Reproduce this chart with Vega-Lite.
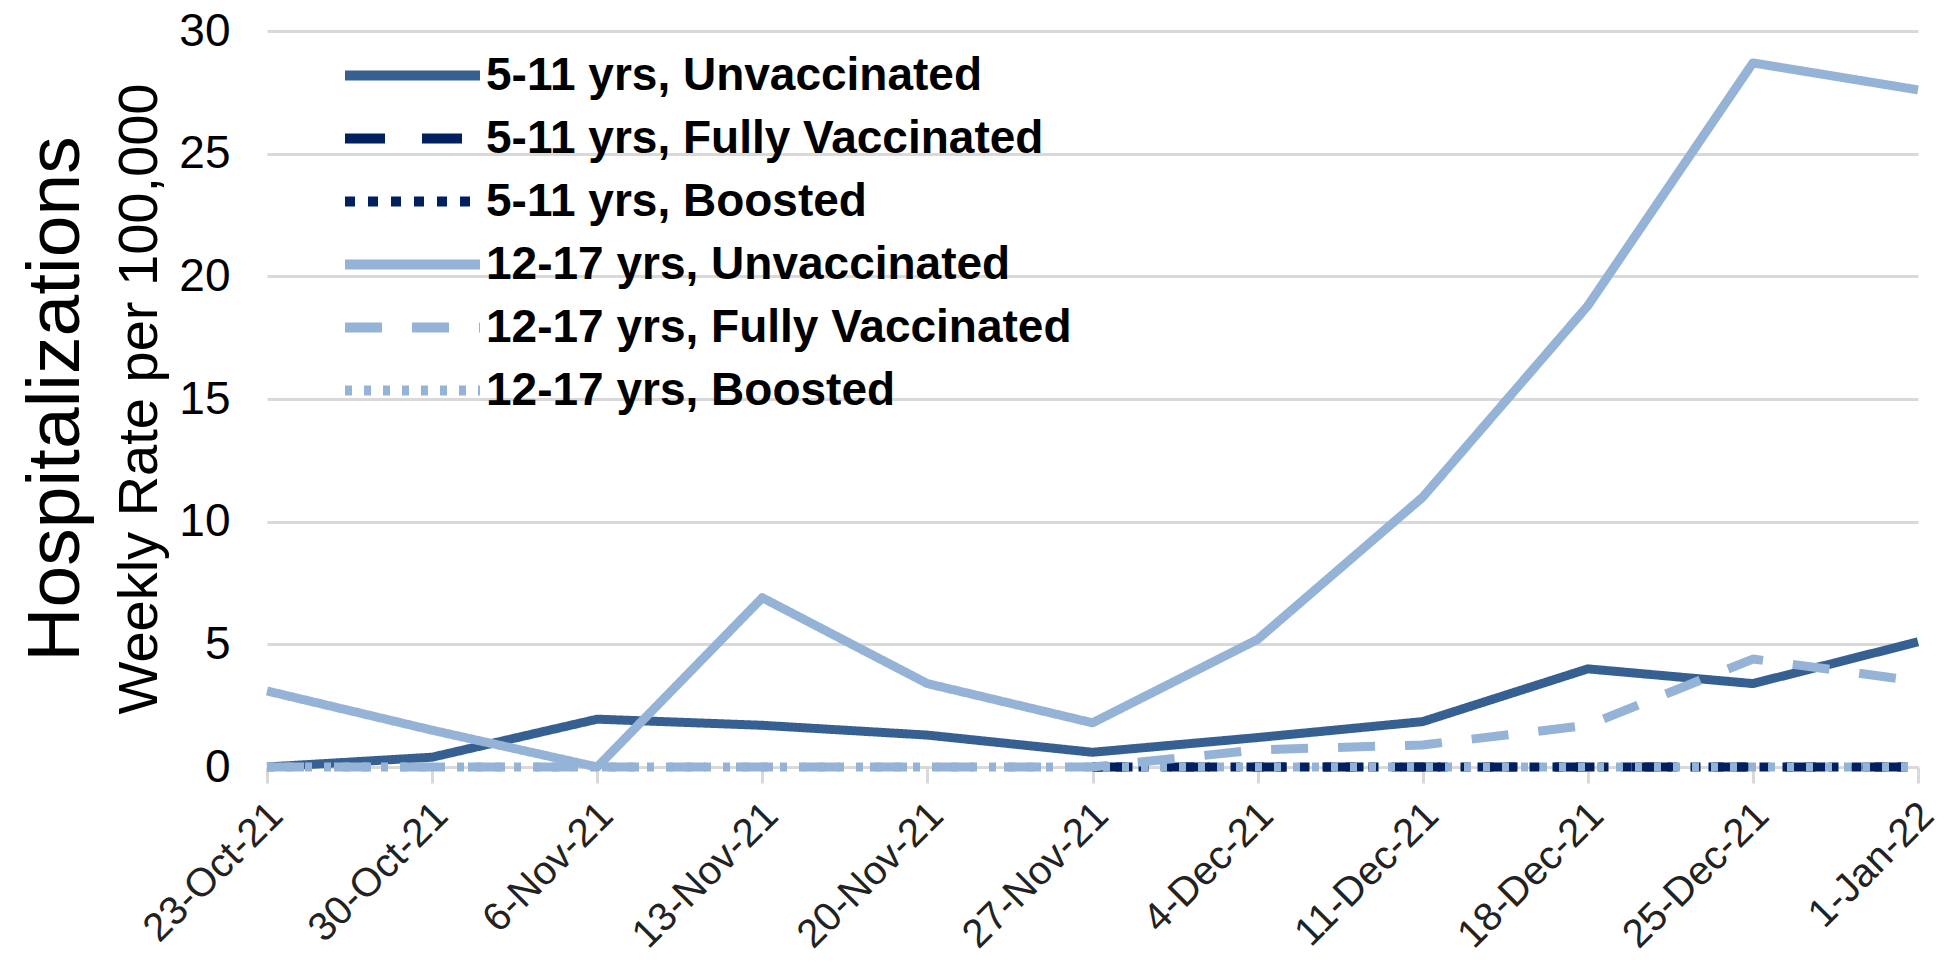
{
  "$schema": "https://vega.github.io/schema/vega-lite/v6.json",
  "width": 1651,
  "height": 736,
  "autosize": {"type": "none"},
  "padding": {"left": 267, "top": 31, "right": 39, "bottom": 199},
  "background": "white",
  "config": {"view": {"stroke": null}, "font": "Liberation Sans"},
  "title": {
    "text": "Hospitalizations",
    "subtitle": "Weekly Rate per 100,000",
    "orient": "left",
    "anchor": "middle",
    "fontSize": 75,
    "font": "Liberation Sans",
    "fontWeight": "normal",
    "color": "#000000",
    "subtitleFontSize": 56,
    "subtitleFont": "Liberation Sans",
    "subtitleColor": "#000000",
    "subtitlePadding": 18,
    "offset": -33
  },
  "data": {
    "values": [
      {"week": "23-Oct-21", "series": "5-11 yrs, Unvaccinated", "rate": 0},
      {"week": "30-Oct-21", "series": "5-11 yrs, Unvaccinated", "rate": 0.4},
      {"week": "6-Nov-21", "series": "5-11 yrs, Unvaccinated", "rate": 1.95},
      {"week": "13-Nov-21", "series": "5-11 yrs, Unvaccinated", "rate": 1.7},
      {"week": "20-Nov-21", "series": "5-11 yrs, Unvaccinated", "rate": 1.3},
      {"week": "27-Nov-21", "series": "5-11 yrs, Unvaccinated", "rate": 0.6},
      {"week": "4-Dec-21", "series": "5-11 yrs, Unvaccinated", "rate": 1.2},
      {"week": "11-Dec-21", "series": "5-11 yrs, Unvaccinated", "rate": 1.85},
      {"week": "18-Dec-21", "series": "5-11 yrs, Unvaccinated", "rate": 4.0},
      {"week": "25-Dec-21", "series": "5-11 yrs, Unvaccinated", "rate": 3.4},
      {"week": "1-Jan-22", "series": "5-11 yrs, Unvaccinated", "rate": 5.1},
      {"week": "27-Nov-21", "series": "5-11 yrs, Fully Vaccinated", "rate": 0},
      {"week": "4-Dec-21", "series": "5-11 yrs, Fully Vaccinated", "rate": 0},
      {"week": "11-Dec-21", "series": "5-11 yrs, Fully Vaccinated", "rate": 0},
      {"week": "18-Dec-21", "series": "5-11 yrs, Fully Vaccinated", "rate": 0},
      {"week": "25-Dec-21", "series": "5-11 yrs, Fully Vaccinated", "rate": 0},
      {"week": "1-Jan-22", "series": "5-11 yrs, Fully Vaccinated", "rate": 0},
      {"week": "27-Nov-21", "series": "5-11 yrs, Boosted", "rate": 0},
      {"week": "4-Dec-21", "series": "5-11 yrs, Boosted", "rate": 0},
      {"week": "11-Dec-21", "series": "5-11 yrs, Boosted", "rate": 0},
      {"week": "18-Dec-21", "series": "5-11 yrs, Boosted", "rate": 0},
      {"week": "25-Dec-21", "series": "5-11 yrs, Boosted", "rate": 0},
      {"week": "1-Jan-22", "series": "5-11 yrs, Boosted", "rate": 0},
      {"week": "23-Oct-21", "series": "12-17 yrs, Unvaccinated", "rate": 3.1},
      {"week": "30-Oct-21", "series": "12-17 yrs, Unvaccinated", "rate": 1.5},
      {"week": "6-Nov-21", "series": "12-17 yrs, Unvaccinated", "rate": 0},
      {"week": "13-Nov-21", "series": "12-17 yrs, Unvaccinated", "rate": 6.9},
      {"week": "20-Nov-21", "series": "12-17 yrs, Unvaccinated", "rate": 3.4},
      {"week": "27-Nov-21", "series": "12-17 yrs, Unvaccinated", "rate": 1.8},
      {"week": "4-Dec-21", "series": "12-17 yrs, Unvaccinated", "rate": 5.2},
      {"week": "11-Dec-21", "series": "12-17 yrs, Unvaccinated", "rate": 11.0},
      {"week": "18-Dec-21", "series": "12-17 yrs, Unvaccinated", "rate": 18.8},
      {"week": "25-Dec-21", "series": "12-17 yrs, Unvaccinated", "rate": 28.7},
      {"week": "1-Jan-22", "series": "12-17 yrs, Unvaccinated", "rate": 27.6},
      {"week": "23-Oct-21", "series": "12-17 yrs, Fully Vaccinated", "rate": 0},
      {"week": "30-Oct-21", "series": "12-17 yrs, Fully Vaccinated", "rate": 0},
      {"week": "6-Nov-21", "series": "12-17 yrs, Fully Vaccinated", "rate": 0},
      {"week": "13-Nov-21", "series": "12-17 yrs, Fully Vaccinated", "rate": 0},
      {"week": "20-Nov-21", "series": "12-17 yrs, Fully Vaccinated", "rate": 0},
      {"week": "27-Nov-21", "series": "12-17 yrs, Fully Vaccinated", "rate": 0},
      {"week": "4-Dec-21", "series": "12-17 yrs, Fully Vaccinated", "rate": 0.7},
      {"week": "11-Dec-21", "series": "12-17 yrs, Fully Vaccinated", "rate": 0.9},
      {"week": "18-Dec-21", "series": "12-17 yrs, Fully Vaccinated", "rate": 1.7},
      {"week": "25-Dec-21", "series": "12-17 yrs, Fully Vaccinated", "rate": 4.4},
      {"week": "1-Jan-22", "series": "12-17 yrs, Fully Vaccinated", "rate": 3.5},
      {"week": "23-Oct-21", "series": "12-17 yrs, Boosted", "rate": 0},
      {"week": "30-Oct-21", "series": "12-17 yrs, Boosted", "rate": 0},
      {"week": "6-Nov-21", "series": "12-17 yrs, Boosted", "rate": 0},
      {"week": "13-Nov-21", "series": "12-17 yrs, Boosted", "rate": 0},
      {"week": "20-Nov-21", "series": "12-17 yrs, Boosted", "rate": 0},
      {"week": "27-Nov-21", "series": "12-17 yrs, Boosted", "rate": 0},
      {"week": "4-Dec-21", "series": "12-17 yrs, Boosted", "rate": 0},
      {"week": "11-Dec-21", "series": "12-17 yrs, Boosted", "rate": 0},
      {"week": "18-Dec-21", "series": "12-17 yrs, Boosted", "rate": 0},
      {"week": "25-Dec-21", "series": "12-17 yrs, Boosted", "rate": 0},
      {"week": "1-Jan-22", "series": "12-17 yrs, Boosted", "rate": 0}
    ]
  },
  "mark": {"type": "line", "strokeWidth": 9, "strokeCap": "butt", "strokeJoin": "round"},
  "encoding": {
    "x": {
      "field": "week",
      "type": "ordinal",
      "sort": ["23-Oct-21", "30-Oct-21", "6-Nov-21", "13-Nov-21", "20-Nov-21", "27-Nov-21", "4-Dec-21", "11-Dec-21", "18-Dec-21", "25-Dec-21", "1-Jan-22"],
      "scale": {"type": "point", "padding": 0},
      "axis": {
        "title": null,
        "labelAngle": -45,
        "labelAlign": "right",
        "labelBaseline": "middle",
        "labelFontSize": 40,
        "labelFont": "Liberation Sans",
        "labelColor": "#222222",
        "labelPadding": 26,
        "labelOffset": 9,
        "labelLimit": 0,
        "labelOverlap": false,
        "tickSize": 16,
        "tickColor": "#D9D9D9",
        "tickWidth": 3,
        "domainColor": "#D9D9D9",
        "domainWidth": 3,
        "grid": false
      }
    },
    "y": {
      "field": "rate",
      "type": "quantitative",
      "scale": {"domain": [0, 30], "nice": false},
      "axis": {
        "title": null,
        "values": [0, 5, 10, 15, 20, 25, 30],
        "grid": true,
        "gridColor": "#D9D9D9",
        "gridWidth": 3,
        "domain": false,
        "ticks": false,
        "labelFontSize": 46,
        "labelFont": "Liberation Sans",
        "labelColor": "#000000",
        "labelPadding": 37
      }
    },
    "color": {
      "field": "series",
      "type": "nominal",
      "sort": null,
      "scale": {
        "domain": ["5-11 yrs, Unvaccinated", "5-11 yrs, Fully Vaccinated", "5-11 yrs, Boosted", "12-17 yrs, Unvaccinated", "12-17 yrs, Fully Vaccinated", "12-17 yrs, Boosted"],
        "range": ["#376092", "#002060", "#002060", "#95B3D7", "#95B3D7", "#95B3D7"]
      },
      "legend": {
        "orient": "none",
        "legendX": 118,
        "legendY": 17,
        "title": null,
        "symbolType": "M-3,0H3",
        "symbolSize": 2025,
        "symbolStrokeWidth": 10,
        "labelFontSize": 46,
        "labelFont": "Liberation Sans",
        "labelFontWeight": "bold",
        "labelColor": "#000000",
        "labelOffset": 46,
        "labelLimit": 0,
        "rowPadding": 12,
        "padding": 0
      }
    },
    "strokeDash": {
      "field": "series",
      "type": "nominal",
      "sort": null,
      "scale": {
        "domain": ["5-11 yrs, Unvaccinated", "5-11 yrs, Fully Vaccinated", "5-11 yrs, Boosted", "12-17 yrs, Unvaccinated", "12-17 yrs, Fully Vaccinated", "12-17 yrs, Boosted"],
        "range": [[1, 0], [40, 37], [10, 13], [1, 0], [37, 30], [7, 12]]
      },
      "legend": {
        "orient": "none",
        "legendX": 118,
        "legendY": 17,
        "title": null,
        "symbolType": "M-3,0H3",
        "symbolSize": 2025,
        "symbolStrokeWidth": 10,
        "labelFontSize": 46,
        "labelFont": "Liberation Sans",
        "labelFontWeight": "bold",
        "labelColor": "#000000",
        "labelOffset": 46,
        "labelLimit": 0,
        "rowPadding": 12,
        "padding": 0
      }
    }
  }
}
